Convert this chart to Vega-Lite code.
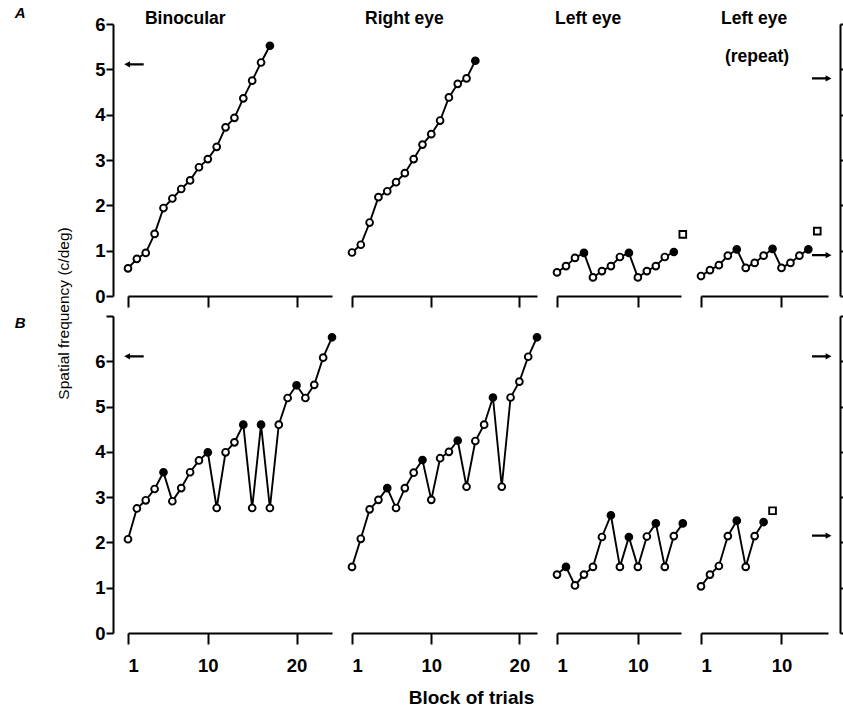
{
  "$schema": "https://vega.github.io/schema/vega-lite/v6.json",
  "padding": {"left": 14, "top": 6, "right": 0, "bottom": 0},
  "background": "white",
  "config": {
    "view": {"stroke": null},
    "font": "Liberation Sans",
    "axis": {"domainColor": "black", "tickColor": "black", "labelColor": "black", "titleColor": "black", "grid": false, "labelFont": "Liberation Sans", "titleFont": "Liberation Sans"}
  },
  "datasets": {
    "A_bin": [
      {"trial": 1, "freq": 0.61, "type": "open"}, {"trial": 2, "freq": 0.82, "type": "open"}, {"trial": 3, "freq": 0.95, "type": "open"},
      {"trial": 4, "freq": 1.37, "type": "open"}, {"trial": 5, "freq": 1.94, "type": "open"}, {"trial": 6, "freq": 2.15, "type": "open"},
      {"trial": 7, "freq": 2.36, "type": "open"}, {"trial": 8, "freq": 2.55, "type": "open"}, {"trial": 9, "freq": 2.84, "type": "open"},
      {"trial": 10, "freq": 3.02, "type": "open"}, {"trial": 11, "freq": 3.29, "type": "open"}, {"trial": 12, "freq": 3.72, "type": "open"},
      {"trial": 13, "freq": 3.93, "type": "open"}, {"trial": 14, "freq": 4.36, "type": "open"}, {"trial": 15, "freq": 4.75, "type": "open"},
      {"trial": 16, "freq": 5.15, "type": "open"}, {"trial": 17, "freq": 5.52, "type": "filled"}
    ],
    "A_right": [
      {"trial": 1, "freq": 0.96, "type": "open"}, {"trial": 2, "freq": 1.13, "type": "open"}, {"trial": 3, "freq": 1.62, "type": "open"},
      {"trial": 4, "freq": 2.18, "type": "open"}, {"trial": 5, "freq": 2.31, "type": "open"}, {"trial": 6, "freq": 2.51, "type": "open"},
      {"trial": 7, "freq": 2.71, "type": "open"}, {"trial": 8, "freq": 3.02, "type": "open"}, {"trial": 9, "freq": 3.34, "type": "open"},
      {"trial": 10, "freq": 3.57, "type": "open"}, {"trial": 11, "freq": 3.87, "type": "open"}, {"trial": 12, "freq": 4.38, "type": "open"},
      {"trial": 13, "freq": 4.68, "type": "open"}, {"trial": 14, "freq": 4.80, "type": "open"}, {"trial": 15, "freq": 5.19, "type": "filled"}
    ],
    "A_left": [
      {"trial": 1, "freq": 0.52, "type": "open"}, {"trial": 2, "freq": 0.66, "type": "open"}, {"trial": 3, "freq": 0.84, "type": "open"},
      {"trial": 4, "freq": 0.95, "type": "filled"}, {"trial": 5, "freq": 0.41, "type": "open"}, {"trial": 6, "freq": 0.55, "type": "open"},
      {"trial": 7, "freq": 0.66, "type": "open"}, {"trial": 8, "freq": 0.86, "type": "open"}, {"trial": 9, "freq": 0.95, "type": "filled"},
      {"trial": 10, "freq": 0.41, "type": "open"}, {"trial": 11, "freq": 0.55, "type": "open"}, {"trial": 12, "freq": 0.66, "type": "open"},
      {"trial": 13, "freq": 0.86, "type": "open"}, {"trial": 14, "freq": 0.97, "type": "filled"}
    ],
    "A_repeat": [
      {"trial": 1, "freq": 0.44, "type": "open"}, {"trial": 2, "freq": 0.57, "type": "open"}, {"trial": 3, "freq": 0.68, "type": "open"},
      {"trial": 4, "freq": 0.89, "type": "open"}, {"trial": 5, "freq": 1.03, "type": "filled"}, {"trial": 6, "freq": 0.62, "type": "open"},
      {"trial": 7, "freq": 0.73, "type": "open"}, {"trial": 8, "freq": 0.89, "type": "open"}, {"trial": 9, "freq": 1.04, "type": "filled"},
      {"trial": 10, "freq": 0.62, "type": "open"}, {"trial": 11, "freq": 0.73, "type": "open"}, {"trial": 12, "freq": 0.89, "type": "open"},
      {"trial": 13, "freq": 1.03, "type": "filled"}
    ],
    "B_bin": [
      {"trial": 1, "freq": 2.07, "type": "open"}, {"trial": 2, "freq": 2.75, "type": "open"}, {"trial": 3, "freq": 2.93, "type": "open"},
      {"trial": 4, "freq": 3.18, "type": "open"}, {"trial": 5, "freq": 3.55, "type": "filled"}, {"trial": 6, "freq": 2.91, "type": "open"},
      {"trial": 7, "freq": 3.20, "type": "open"}, {"trial": 8, "freq": 3.55, "type": "open"}, {"trial": 9, "freq": 3.81, "type": "open"},
      {"trial": 10, "freq": 3.99, "type": "filled"}, {"trial": 11, "freq": 2.76, "type": "open"}, {"trial": 12, "freq": 3.99, "type": "open"},
      {"trial": 13, "freq": 4.21, "type": "open"}, {"trial": 14, "freq": 4.60, "type": "filled"}, {"trial": 15, "freq": 2.76, "type": "open"},
      {"trial": 16, "freq": 4.60, "type": "filled"}, {"trial": 17, "freq": 2.76, "type": "open"}, {"trial": 18, "freq": 4.60, "type": "open"},
      {"trial": 19, "freq": 5.19, "type": "open"}, {"trial": 20, "freq": 5.47, "type": "filled"}, {"trial": 21, "freq": 5.19, "type": "open"},
      {"trial": 22, "freq": 5.48, "type": "open"}, {"trial": 23, "freq": 6.08, "type": "open"}, {"trial": 24, "freq": 6.53, "type": "filled"}
    ],
    "B_right": [
      {"trial": 1, "freq": 1.46, "type": "open"}, {"trial": 2, "freq": 2.08, "type": "open"}, {"trial": 3, "freq": 2.73, "type": "open"},
      {"trial": 4, "freq": 2.94, "type": "open"}, {"trial": 5, "freq": 3.20, "type": "filled"}, {"trial": 6, "freq": 2.76, "type": "open"},
      {"trial": 7, "freq": 3.20, "type": "open"}, {"trial": 8, "freq": 3.54, "type": "open"}, {"trial": 9, "freq": 3.82, "type": "filled"},
      {"trial": 10, "freq": 2.94, "type": "open"}, {"trial": 11, "freq": 3.86, "type": "open"}, {"trial": 12, "freq": 4.00, "type": "open"},
      {"trial": 13, "freq": 4.25, "type": "filled"}, {"trial": 14, "freq": 3.23, "type": "open"}, {"trial": 15, "freq": 4.24, "type": "open"},
      {"trial": 16, "freq": 4.60, "type": "open"}, {"trial": 17, "freq": 5.20, "type": "filled"}, {"trial": 18, "freq": 3.23, "type": "open"},
      {"trial": 19, "freq": 5.20, "type": "open"}, {"trial": 20, "freq": 5.55, "type": "open"}, {"trial": 21, "freq": 6.10, "type": "open"},
      {"trial": 22, "freq": 6.53, "type": "filled"}
    ],
    "B_left": [
      {"trial": 1, "freq": 1.29, "type": "open"}, {"trial": 2, "freq": 1.46, "type": "filled"}, {"trial": 3, "freq": 1.05, "type": "open"},
      {"trial": 4, "freq": 1.29, "type": "open"}, {"trial": 5, "freq": 1.46, "type": "open"}, {"trial": 6, "freq": 2.12, "type": "open"},
      {"trial": 7, "freq": 2.60, "type": "filled"}, {"trial": 8, "freq": 1.46, "type": "open"}, {"trial": 9, "freq": 2.12, "type": "filled"},
      {"trial": 10, "freq": 1.46, "type": "open"}, {"trial": 11, "freq": 2.13, "type": "open"}, {"trial": 12, "freq": 2.42, "type": "filled"},
      {"trial": 13, "freq": 1.46, "type": "open"}, {"trial": 14, "freq": 2.14, "type": "open"}, {"trial": 15, "freq": 2.42, "type": "filled"}
    ],
    "B_repeat": [
      {"trial": 1, "freq": 1.03, "type": "open"}, {"trial": 2, "freq": 1.29, "type": "open"}, {"trial": 3, "freq": 1.48, "type": "open"},
      {"trial": 4, "freq": 2.14, "type": "open"}, {"trial": 5, "freq": 2.48, "type": "filled"}, {"trial": 6, "freq": 1.46, "type": "open"},
      {"trial": 7, "freq": 2.14, "type": "open"}, {"trial": 8, "freq": 2.45, "type": "filled"}
    ],
    "squares": [
      {"row": "A", "panel": "left", "trial": 15, "freq": 1.36},
      {"row": "A", "panel": "repeat", "trial": 14, "freq": 1.43},
      {"row": "B", "panel": "repeat", "trial": 9, "freq": 2.70}
    ],
    "arrows": [
      {"row": "A", "side": "left", "freq": 5.11},
      {"row": "B", "side": "left", "freq": 6.11},
      {"row": "A", "side": "right", "freq": 4.80},
      {"row": "A", "side": "right", "freq": 0.90},
      {"row": "B", "side": "right", "freq": 6.11},
      {"row": "B", "side": "right", "freq": 2.15}
    ]
  },
  "columns": 4,
  "spacing": {"row": 20, "column": 20},
  "bounds": "flush",
  "align": "each",
  "concat": [
    {
      "width": 204, "height": 272,
      "layer": [
        {"data": {"name": "A_bin"}, "mark": {"type": "line", "color": "black", "strokeWidth": 1.9},
         "encoding": {
           "x": {"field": "trial", "type": "quantitative", "scale": {"domain": [1, 24], "nice": false, "zero": false},
                 "axis": {"values": [1, 10, 20], "labels": false, "tickSize": 11, "tickWidth": 2, "domainWidth": 2, "title": null}},
           "y": {"field": "freq", "type": "quantitative", "scale": {"domain": [0, 6], "nice": false, "zero": false},
                 "axis": {"orient": "left", "offset": 15, "values": [0, 1, 2, 3, 4, 5, 6], "tickSize": 7, "tickWidth": 2, "domainWidth": 2,
                          "labelFontSize": 18.5, "labelFontWeight": "bold", "labelPadding": 1,
                          "title": "Spatial frequency (c/deg)", "titleX": -50, "titleY": 289, "titleAngle": -90, "titleAlign": "center", "titleBaseline": "middle",
                          "titleFontSize": 15.5, "titleFontWeight": "normal"}}}},
        {"data": {"name": "A_bin"}, "mark": {"type": "point", "shape": "circle", "filled": true, "size": 46, "stroke": "black", "strokeWidth": 1.9, "opacity": 1},
         "encoding": {"x": {"field": "trial", "type": "quantitative"}, "y": {"field": "freq", "type": "quantitative"},
                      "fill": {"field": "type", "type": "nominal", "scale": {"domain": ["open", "filled"], "range": ["white", "black"]}, "legend": null}}},
        {"data": {"name": "arrows"}, "transform": [{"filter": "datum.row == 'A' && datum.side == 'left'"}],
         "mark": {"type": "point", "shape": "M-1,0L-0.4,-0.32L-0.4,-0.12L1,-0.12L1,0.12L-0.4,0.12L-0.4,0.32Z", "filled": true, "size": 380, "color": "black", "opacity": 1},
         "encoding": {"x": {"datum": 1.67, "type": "quantitative"}, "y": {"field": "freq", "type": "quantitative"}}},
        {"data": {"values": [{"label": "Binocular"}]},
         "mark": {"type": "text", "align": "left", "baseline": "alphabetic", "fontSize": 17.5, "fontWeight": "bold", "color": "black"},
         "encoding": {"x": {"datum": 2.91, "type": "quantitative"}, "y": {"datum": 6.0, "type": "quantitative"}, "text": {"field": "label"}}},
        {"data": {"values": [{"label": "A"}]},
         "mark": {"type": "text", "align": "center", "baseline": "middle", "fontSize": 15, "fontWeight": "bold", "fontStyle": "italic", "color": "black"},
         "encoding": {"x": {"datum": -11.15, "type": "quantitative"}, "y": {"datum": 6.24, "type": "quantitative"}, "text": {"field": "label"}}}
      ]
    },
    {
      "width": 185, "height": 272,
      "layer": [
        {"data": {"name": "A_right"}, "mark": {"type": "line", "color": "black", "strokeWidth": 1.9},
         "encoding": {
           "x": {"field": "trial", "type": "quantitative", "scale": {"domain": [1, 22], "nice": false, "zero": false},
                 "axis": {"values": [1, 10, 20], "labels": false, "tickSize": 11, "tickWidth": 2, "domainWidth": 2, "title": null}},
           "y": {"field": "freq", "type": "quantitative", "scale": {"domain": [0, 6], "nice": false, "zero": false}, "axis": null}}},
        {"data": {"name": "A_right"}, "mark": {"type": "point", "shape": "circle", "filled": true, "size": 46, "stroke": "black", "strokeWidth": 1.9, "opacity": 1},
         "encoding": {"x": {"field": "trial", "type": "quantitative"}, "y": {"field": "freq", "type": "quantitative", "axis": null},
                      "fill": {"field": "type", "type": "nominal", "scale": {"domain": ["open", "filled"], "range": ["white", "black"]}, "legend": null}}},
        {"data": {"values": [{"label": "Right eye"}]},
         "mark": {"type": "text", "align": "left", "baseline": "alphabetic", "fontSize": 17.5, "fontWeight": "bold", "color": "black"},
         "encoding": {"x": {"datum": 2.48, "type": "quantitative"}, "y": {"datum": 6.0, "type": "quantitative", "axis": null}, "text": {"field": "label"}}}
      ]
    },
    {
      "width": 124, "height": 272,
      "layer": [
        {"data": {"name": "A_left"}, "mark": {"type": "line", "color": "black", "strokeWidth": 1.9},
         "encoding": {
           "x": {"field": "trial", "type": "quantitative", "scale": {"domain": [1, 14.8], "nice": false, "zero": false},
                 "axis": {"values": [1, 10], "labels": false, "tickSize": 11, "tickWidth": 2, "domainWidth": 2, "title": null}},
           "y": {"field": "freq", "type": "quantitative", "scale": {"domain": [0, 6], "nice": false, "zero": false}, "axis": null}}},
        {"data": {"name": "A_left"}, "mark": {"type": "point", "shape": "circle", "filled": true, "size": 46, "stroke": "black", "strokeWidth": 1.9, "opacity": 1},
         "encoding": {"x": {"field": "trial", "type": "quantitative"}, "y": {"field": "freq", "type": "quantitative", "axis": null},
                      "fill": {"field": "type", "type": "nominal", "scale": {"domain": ["open", "filled"], "range": ["white", "black"]}, "legend": null}}},
        {"data": {"name": "squares"}, "transform": [{"filter": "datum.row == 'A' && datum.panel == 'left'"}],
         "mark": {"type": "point", "shape": "square", "filled": true, "fill": "white", "size": 45, "stroke": "black", "strokeWidth": 1.9, "opacity": 1},
         "encoding": {"x": {"field": "trial", "type": "quantitative"}, "y": {"field": "freq", "type": "quantitative", "axis": null}}},
        {"data": {"values": [{"label": "Left eye"}]},
         "mark": {"type": "text", "align": "left", "baseline": "alphabetic", "fontSize": 17.5, "fontWeight": "bold", "color": "black"},
         "encoding": {"x": {"datum": 0.78, "type": "quantitative"}, "y": {"datum": 6.0, "type": "quantitative", "axis": null}, "text": {"field": "label"}}}
      ]
    },
    {
      "width": 127, "height": 272,
      "layer": [
        {"data": {"name": "A_repeat"}, "mark": {"type": "line", "color": "black", "strokeWidth": 1.9},
         "encoding": {
           "x": {"field": "trial", "type": "quantitative", "scale": {"domain": [1, 15.2], "nice": false, "zero": false},
                 "axis": {"values": [1, 10], "labels": false, "tickSize": 11, "tickWidth": 2, "domainWidth": 2, "title": null}},
           "y": {"field": "freq", "type": "quantitative", "scale": {"domain": [0, 6], "nice": false, "zero": false},
                 "axis": {"orient": "right", "offset": 12, "values": [0, 1, 2, 3, 4, 5, 6], "labels": false, "tickSize": 5, "tickWidth": 2, "domainWidth": 2, "title": null}}}},
        {"data": {"name": "A_repeat"}, "mark": {"type": "point", "shape": "circle", "filled": true, "size": 46, "stroke": "black", "strokeWidth": 1.9, "opacity": 1},
         "encoding": {"x": {"field": "trial", "type": "quantitative"}, "y": {"field": "freq", "type": "quantitative"},
                      "fill": {"field": "type", "type": "nominal", "scale": {"domain": ["open", "filled"], "range": ["white", "black"]}, "legend": null}}},
        {"data": {"name": "squares"}, "transform": [{"filter": "datum.row == 'A' && datum.panel == 'repeat'"}],
         "mark": {"type": "point", "shape": "square", "filled": true, "fill": "white", "size": 45, "stroke": "black", "strokeWidth": 1.9, "opacity": 1},
         "encoding": {"x": {"field": "trial", "type": "quantitative"}, "y": {"field": "freq", "type": "quantitative"}}},
        {"data": {"name": "arrows"}, "transform": [{"filter": "datum.row == 'A' && datum.side == 'right'"}],
         "mark": {"type": "point", "shape": "M1,0L0.4,-0.32L0.4,-0.12L-1,-0.12L-1,0.12L0.4,0.12L0.4,0.32Z", "filled": true, "size": 380, "color": "black", "opacity": 1},
         "encoding": {"x": {"datum": 14.5, "type": "quantitative"}, "y": {"field": "freq", "type": "quantitative"}}},
        {"data": {"values": [{"label": "Left eye"}]},
         "mark": {"type": "text", "align": "left", "baseline": "alphabetic", "fontSize": 17.5, "fontWeight": "bold", "color": "black"},
         "encoding": {"x": {"datum": 3.24, "type": "quantitative"}, "y": {"datum": 6.0, "type": "quantitative"}, "text": {"field": "label"}}},
        {"data": {"values": [{"label": "(repeat)"}]},
         "mark": {"type": "text", "align": "left", "baseline": "alphabetic", "fontSize": 17.5, "fontWeight": "bold", "color": "black"},
         "encoding": {"x": {"datum": 3.68, "type": "quantitative"}, "y": {"datum": 5.17, "type": "quantitative"}, "text": {"field": "label"}}}
      ]
    },
    {
      "width": 204, "height": 317,
      "layer": [
        {"data": {"name": "B_bin"}, "mark": {"type": "line", "color": "black", "strokeWidth": 1.9},
         "encoding": {
           "x": {"field": "trial", "type": "quantitative", "scale": {"domain": [1, 24], "nice": false, "zero": false},
                 "axis": {"values": [1, 10, 20], "tickSize": 11, "tickWidth": 2, "domainWidth": 2, "title": null,
                          "labelFontSize": 18.5, "labelFontWeight": "bold", "labelPadding": 12}},
           "y": {"field": "freq", "type": "quantitative", "scale": {"domain": [0, 7], "nice": false, "zero": false},
                 "axis": {"orient": "left", "offset": 15, "values": [0, 1, 2, 3, 4, 5, 6, 7], "labelExpr": "datum.value == 7 ? '' : datum.label",
                          "tickSize": 7, "tickWidth": 2, "domainWidth": 2,
                          "labelFontSize": 18.5, "labelFontWeight": "bold", "labelPadding": 1, "title": null}}}},
        {"data": {"name": "B_bin"}, "mark": {"type": "point", "shape": "circle", "filled": true, "size": 46, "stroke": "black", "strokeWidth": 1.9, "opacity": 1},
         "encoding": {"x": {"field": "trial", "type": "quantitative"}, "y": {"field": "freq", "type": "quantitative"},
                      "fill": {"field": "type", "type": "nominal", "scale": {"domain": ["open", "filled"], "range": ["white", "black"]}, "legend": null}}},
        {"data": {"name": "arrows"}, "transform": [{"filter": "datum.row == 'B' && datum.side == 'left'"}],
         "mark": {"type": "point", "shape": "M-1,0L-0.4,-0.32L-0.4,-0.12L1,-0.12L1,0.12L-0.4,0.12L-0.4,0.32Z", "filled": true, "size": 380, "color": "black", "opacity": 1},
         "encoding": {"x": {"datum": 1.67, "type": "quantitative"}, "y": {"field": "freq", "type": "quantitative"}}},
        {"data": {"values": [{"label": "B"}]},
         "mark": {"type": "text", "align": "center", "baseline": "middle", "fontSize": 15, "fontWeight": "bold", "fontStyle": "italic", "color": "black"},
         "encoding": {"x": {"datum": -11.15, "type": "quantitative"}, "y": {"datum": 6.84, "type": "quantitative"}, "text": {"field": "label"}}}
      ]
    },
    {
      "width": 185, "height": 317,
      "layer": [
        {"data": {"name": "B_right"}, "mark": {"type": "line", "color": "black", "strokeWidth": 1.9},
         "encoding": {
           "x": {"field": "trial", "type": "quantitative", "scale": {"domain": [1, 22], "nice": false, "zero": false},
                 "axis": {"values": [1, 10, 20], "tickSize": 11, "tickWidth": 2, "domainWidth": 2,
                          "labelFontSize": 18.5, "labelFontWeight": "bold", "labelPadding": 12,
                          "title": "Block of trials", "titleX": 119, "titleY": 70, "titleAlign": "center", "titleBaseline": "alphabetic",
                          "titleFontSize": 19, "titleFontWeight": "bold"}},
           "y": {"field": "freq", "type": "quantitative", "scale": {"domain": [0, 7], "nice": false, "zero": false}, "axis": null}}},
        {"data": {"name": "B_right"}, "mark": {"type": "point", "shape": "circle", "filled": true, "size": 46, "stroke": "black", "strokeWidth": 1.9, "opacity": 1},
         "encoding": {"x": {"field": "trial", "type": "quantitative"}, "y": {"field": "freq", "type": "quantitative", "axis": null},
                      "fill": {"field": "type", "type": "nominal", "scale": {"domain": ["open", "filled"], "range": ["white", "black"]}, "legend": null}}}
      ]
    },
    {
      "width": 124, "height": 317,
      "layer": [
        {"data": {"name": "B_left"}, "mark": {"type": "line", "color": "black", "strokeWidth": 1.9},
         "encoding": {
           "x": {"field": "trial", "type": "quantitative", "scale": {"domain": [1, 14.8], "nice": false, "zero": false},
                 "axis": {"values": [1, 10], "tickSize": 11, "tickWidth": 2, "domainWidth": 2, "title": null,
                          "labelFontSize": 18.5, "labelFontWeight": "bold", "labelPadding": 12}},
           "y": {"field": "freq", "type": "quantitative", "scale": {"domain": [0, 7], "nice": false, "zero": false}, "axis": null}}},
        {"data": {"name": "B_left"}, "mark": {"type": "point", "shape": "circle", "filled": true, "size": 46, "stroke": "black", "strokeWidth": 1.9, "opacity": 1},
         "encoding": {"x": {"field": "trial", "type": "quantitative"}, "y": {"field": "freq", "type": "quantitative", "axis": null},
                      "fill": {"field": "type", "type": "nominal", "scale": {"domain": ["open", "filled"], "range": ["white", "black"]}, "legend": null}}}
      ]
    },
    {
      "width": 127, "height": 317,
      "layer": [
        {"data": {"name": "B_repeat"}, "mark": {"type": "line", "color": "black", "strokeWidth": 1.9},
         "encoding": {
           "x": {"field": "trial", "type": "quantitative", "scale": {"domain": [1, 15.2], "nice": false, "zero": false},
                 "axis": {"values": [1, 10], "tickSize": 11, "tickWidth": 2, "domainWidth": 2, "title": null,
                          "labelFontSize": 18.5, "labelFontWeight": "bold", "labelPadding": 12}},
           "y": {"field": "freq", "type": "quantitative", "scale": {"domain": [0, 7], "nice": false, "zero": false},
                 "axis": {"orient": "right", "offset": 12, "values": [0, 1, 2, 3, 4, 5, 6, 7], "labels": false, "tickSize": 5, "tickWidth": 2, "domainWidth": 2, "title": null}}}},
        {"data": {"name": "B_repeat"}, "mark": {"type": "point", "shape": "circle", "filled": true, "size": 46, "stroke": "black", "strokeWidth": 1.9, "opacity": 1},
         "encoding": {"x": {"field": "trial", "type": "quantitative"}, "y": {"field": "freq", "type": "quantitative"},
                      "fill": {"field": "type", "type": "nominal", "scale": {"domain": ["open", "filled"], "range": ["white", "black"]}, "legend": null}}},
        {"data": {"name": "squares"}, "transform": [{"filter": "datum.row == 'B' && datum.panel == 'repeat'"}],
         "mark": {"type": "point", "shape": "square", "filled": true, "fill": "white", "size": 45, "stroke": "black", "strokeWidth": 1.9, "opacity": 1},
         "encoding": {"x": {"field": "trial", "type": "quantitative"}, "y": {"field": "freq", "type": "quantitative"}}},
        {"data": {"name": "arrows"}, "transform": [{"filter": "datum.row == 'B' && datum.side == 'right'"}],
         "mark": {"type": "point", "shape": "M1,0L0.4,-0.32L0.4,-0.12L-1,-0.12L-1,0.12L0.4,0.12L0.4,0.32Z", "filled": true, "size": 380, "color": "black", "opacity": 1},
         "encoding": {"x": {"datum": 14.5, "type": "quantitative"}, "y": {"field": "freq", "type": "quantitative"}}}
      ]
    }
  ]
}
